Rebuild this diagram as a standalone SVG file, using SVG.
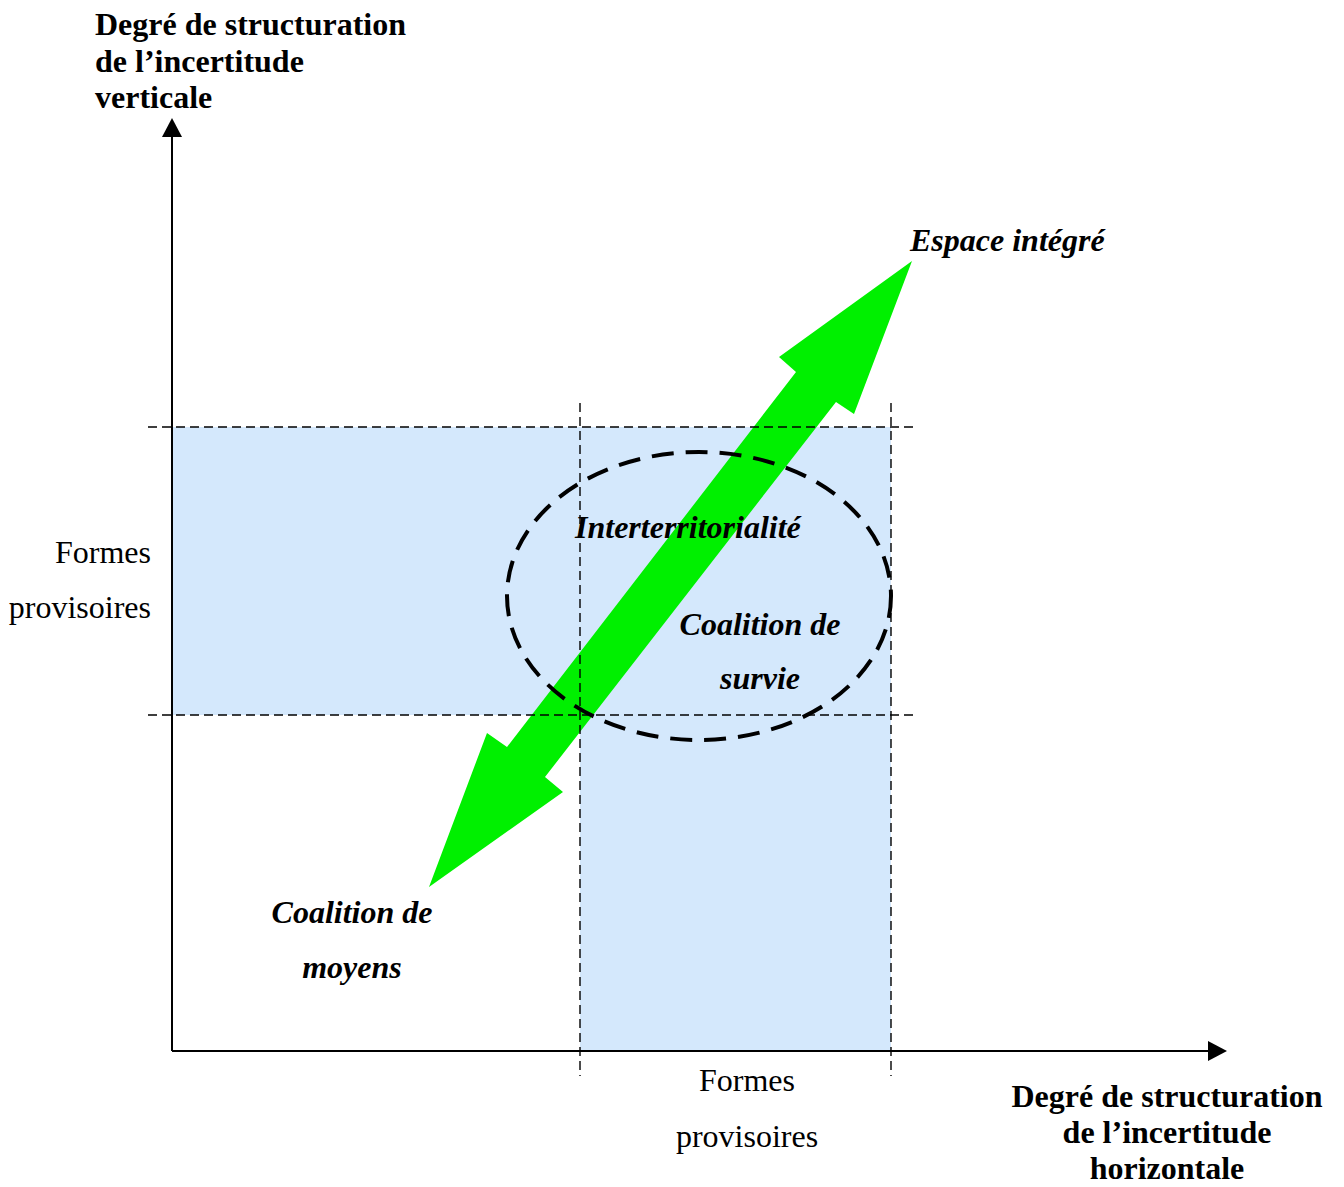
<svg xmlns="http://www.w3.org/2000/svg" width="1344" height="1187" viewBox="0 0 1344 1187">
<style>
.t{font-family:"Liberation Serif","Times New Roman",serif;font-size:32px;fill:#000}
.b{font-weight:bold}
.bi{font-weight:bold;font-style:italic}
.dash{stroke:#000;stroke-width:1.4;stroke-dasharray:9 5;fill:none}
.ax{stroke:#000;stroke-width:2;fill:none}
</style>
<rect width="1344" height="1187" fill="#fff"/>
<g id="zones">
<rect x="172" y="427" width="719" height="288" fill="#D4E8FC"/>
<rect x="580" y="715" width="311" height="336" fill="#D4E8FC"/>
</g>
<g id="axes">
<line class="ax" x1="172" y1="1051" x2="172" y2="134"/>
<polygon points="172,118 162,137 182,137" fill="#000"/>
<line class="ax" x1="172" y1="1051" x2="1210" y2="1051"/>
<polygon points="1227,1051 1208,1041 1208,1061" fill="#000"/>
</g>
<g id="green-arrow">
<polygon points="912,261 854,414 836,402 545,777 563,792 429,887 487,733 507,747 796,372 779,357" fill="#00F000"/>
</g>
<g id="ellipse">
<ellipse cx="699" cy="596" rx="192" ry="144" fill="none" stroke="#000" stroke-width="4" stroke-dasharray="22 12"/>
</g>
<g id="connectors">
<line class="dash" x1="148" y1="427" x2="917" y2="427"/>
<line class="dash" x1="148" y1="715" x2="917" y2="715"/>
<line class="dash" x1="580" y1="403" x2="580" y2="1076"/>
<line class="dash" x1="891" y1="403" x2="891" y2="1076"/>
</g>
<g id="label-y-axis">
<text class="t b" x="95" y="35">Degré de structuration</text>
<text class="t b" x="95" y="72">de l’incertitude</text>
<text class="t b" x="95" y="108">verticale</text>
</g>
<g id="label-x-axis">
<text class="t b" x="1167" y="1107" text-anchor="middle">Degré de structuration</text>
<text class="t b" x="1167" y="1143" text-anchor="middle">de l’incertitude</text>
<text class="t b" x="1167" y="1179" text-anchor="middle">horizontale</text>
</g>
<g id="label-formes-left">
<text class="t" x="151" y="563" text-anchor="end">Formes</text>
<text class="t" x="151" y="618" text-anchor="end">provisoires</text>
</g>
<g id="label-formes-bottom">
<text class="t" x="747" y="1091" text-anchor="middle">Formes</text>
<text class="t" x="747" y="1147" text-anchor="middle">provisoires</text>
</g>
<g id="node-espace">
<text class="t bi" x="910" y="251">Espace intégré</text>
</g>
<g id="node-inter">
<text class="t bi" x="575" y="538">Interterritorialité</text>
</g>
<g id="node-survie">
<text class="t bi" x="760" y="635" text-anchor="middle">Coalition de</text>
<text class="t bi" x="760" y="689" text-anchor="middle">survie</text>
</g>
<g id="node-moyens">
<text class="t bi" x="352" y="923" text-anchor="middle">Coalition de</text>
<text class="t bi" x="352" y="978" text-anchor="middle">moyens</text>
</g>
</svg>
